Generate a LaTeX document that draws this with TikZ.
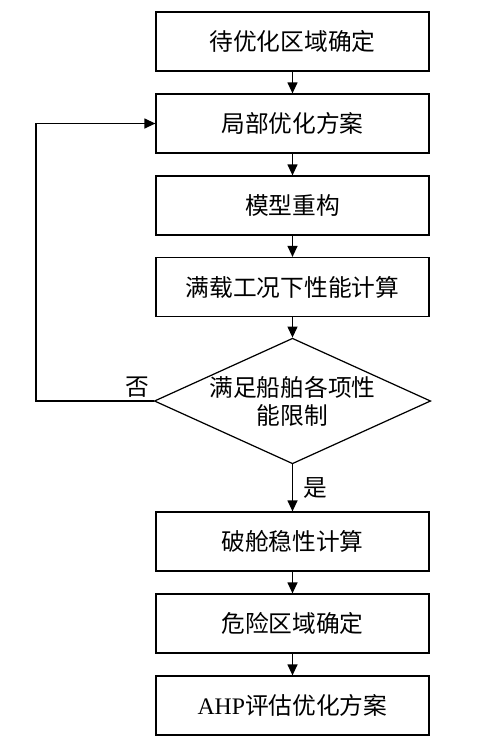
\documentclass[tikz,border=0pt]{standalone}
\usepackage{fontspec}
\setmainfont{Liberation Serif}
\newfontfamily\cjk{Noto Sans CJK SC}
\usetikzlibrary{shapes.geometric,arrows.meta}

\begin{document}
\begin{tikzpicture}[line width=.7pt, >={Triangle[width=2mm,length=2.2mm]},
  every node/.style={font=\fontsize{13.5pt}{16pt}\selectfont\cjk},
  stepbox/.style={rectangle, draw, minimum width=5.46cm, minimum height=1.18cm},
  check/.style={diamond, draw, align=center, aspect=2.2, inner sep=0pt, minimum width=5.46cm, minimum height=2.48cm}]
  \useasboundingbox (0cm,0cm) rectangle (10cm,-15cm);
  \node[stepbox] (b1) at (5.85cm,-0.83cm) {待优化区域确定};
  \node[stepbox] (b2) at (5.85cm,-2.47cm) {局部优化方案};
  \node[stepbox] (b3) at (5.85cm,-4.11cm) {模型重构};
  \node[stepbox] (b4) at (5.85cm,-5.74cm) {满载工况下性能计算};
  \node[check] (d0) at (5.85cm,-8.02cm) {满足船舶各项性\\能限制};
  \node[stepbox] (b5) at (5.85cm,-10.83cm) {破舱稳性计算};
  \node[stepbox] (b6) at (5.85cm,-12.47cm) {危险区域确定};
  \node[stepbox] (b7) at (5.85cm,-14.11cm) {{\rmfamily AHP}评估优化方案};
  \coordinate (k0) at (0.72cm,-8.02cm);
  \coordinate (k1) at (0.72cm,-2.47cm);

  \draw[->] (b1) -- (b2); \draw[->] (b2) -- (b3); \draw[->] (b3) -- (b4); \draw[->] (b4) -- (d0);
  \draw[->] (d0) -- (b5); \draw[->] (b5) -- (b6); \draw[->] (b6) -- (b7);
  \draw[->] (d0.west) -- (k0) -- (k1) -- (b2.west);
  \node (no) at (2.74cm,-7.74cm) {否};
  \node (yes) at (6.3cm,-9.76cm) {是};
\end{tikzpicture}
\end{document}
